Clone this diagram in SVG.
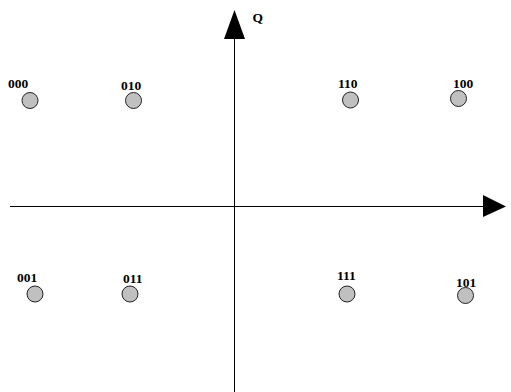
<svg xmlns="http://www.w3.org/2000/svg" width="511" height="392" viewBox="0 0 511 392">
<style>
.pt{fill:#c0c0c0;stroke:#222;stroke-width:1}
.lb{font-family:"Liberation Serif",serif;font-weight:bold;font-size:13.5px;fill:#000}
.ax{stroke:#000;stroke-width:1;fill:none}
</style>
<rect width="511" height="392" fill="#fff"/>
<g id="connectors">
<line class="ax" x1="234.5" y1="30" x2="234.5" y2="392"/>
<polygon points="234.5,10 224,39 245,39" fill="#000"/>
<line class="ax" x1="10" y1="206.5" x2="490" y2="206.5"/>
<polygon points="506,206.5 483,195 483,217" fill="#000"/>
<text class="lb" x="252.5" y="22">Q</text>
</g>
<g id="p000"><circle class="pt" cx="30" cy="100.5" r="8"/><text class="lb" x="8" y="88">000</text></g>
<g id="p010"><circle class="pt" cx="133.5" cy="100.5" r="8"/><text class="lb" x="121" y="90">010</text></g>
<g id="p110"><circle class="pt" cx="350.5" cy="100" r="8"/><text class="lb" x="338" y="88">110</text></g>
<g id="p100"><circle class="pt" cx="458.5" cy="98.5" r="8"/><text class="lb" x="453" y="88">100</text></g>
<g id="p001"><circle class="pt" cx="35" cy="294" r="8"/><text class="lb" x="17" y="282">001</text></g>
<g id="p011"><circle class="pt" cx="130" cy="294" r="8"/><text class="lb" x="123" y="283">011</text></g>
<g id="p111"><circle class="pt" cx="347" cy="294" r="8"/><text class="lb" x="337" y="280">111</text></g>
<g id="p101"><circle class="pt" cx="465.5" cy="295.5" r="8"/><text class="lb" x="456" y="287">101</text></g>
</svg>
